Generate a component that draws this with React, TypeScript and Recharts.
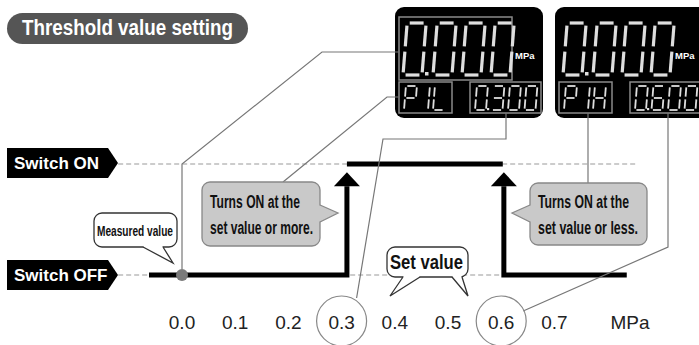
import React from 'react';
import { ComposedChart, Line, XAxis, YAxis, ReferenceLine, ReferenceDot } from 'recharts';

// pressure axis (MPa)
const pressureTicks = [0, 0.1, 0.2, 0.3, 0.4, 0.5, 0.6, 0.7];
const circledTicks = [0.3, 0.6];
const measuredValue = 0.0;

// switch state: 1 = ON, 0 = OFF (arrow series end just below the ON level)
const offBefore = [{ x: -0.062, y: 0 }, { x: 0.31, y: 0 }, { x: 0.31, y: 0.8 }];
const onSpan = [{ x: 0.31, y: 1 }, { x: 0.603, y: 1 }];
const offAfter = [{ x: 0.836, y: 0 }, { x: 0.605, y: 0 }, { x: 0.605, y: 0.8 }];
const onGuide = [{ x: -0.12, y: 1 }, { x: 0.857, y: 1 }];
const offGuide = [{ x: -0.12, y: 0 }, { x: 0.6, y: 0 }];

// display readings
const mainReading = ['0', '0', '0', '0'];
const lowCode = ['P', '1', 'L'];
const lowSet = ['0', '3', '0', '0'];
const highCode = ['P', '1', 'H'];
const highSet = ['0', '6', '0', '0'];

const W = 699;
const H = 345;
const X_MIN = -0.3421;
const X_MAX = 0.9718;
const ON_Y = 164;
const OFF_Y = 275;
const px = (v: number) => ((v - X_MIN) / (X_MAX - X_MIN)) * W;
const py = (v: number) => OFF_Y - v * (OFF_Y - ON_Y);

const NARROW = "'Liberation Sans Narrow', 'Liberation Sans', Arial, sans-serif";
const SANS = "'Liberation Sans', Arial, sans-serif";
const LEADER = '#777';

const SEGS: Record<string, string> = {
  '0': 'abcdef', '3': 'abcdg', '6': 'acdefg', P: 'abefg', '1': 'bc', L: 'def', H: 'bcefg',
};

const Digit = ({ x, y, w, h, ch, sw }: any) => {
  const s = 0.08;
  const g = sw * 0.8;
  const m = h / 2;
  const P = (a: number, b: number) => `${x + a + (h - b) * s},${y + b}`;
  const segs: Record<string, number[][]> = {
    a: [[g, 0], [w - g, 0]],
    b: [[w, g], [w, m - g]],
    c: [[w, m + g], [w, h - g]],
    d: [[g, h], [w - g, h]],
    e: [[0, m + g], [0, h - g]],
    f: [[0, g], [0, m - g]],
    g: [[g, m], [w - g, m]],
  };
  return (
    <g stroke="#dedede" strokeWidth={sw} strokeLinecap="butt">
      {(SEGS[ch] || '').split('').map((k) => {
        const [p1, p2] = segs[k];
        const [x1, y1] = P(p1[0], p1[1]).split(',').map(Number);
        const [x2, y2] = P(p2[0], p2[1]).split(',').map(Number);
        return <line key={k} x1={x1} y1={y1} x2={x2} y2={y2} />;
      })}
    </g>
  );
};

const Display = ({ ox, framed, code, value, boxW }: any) => (
  <g>
    <rect x={ox} y={7} width={boxW} height={111} rx={9} fill="#000" />
    {framed && <rect x={ox + 4} y={17} width={113} height={63} fill="none" stroke="#8a8a8a" strokeWidth={1.5} />}
    {mainReading.map((c, i) => (
      <Digit key={i} x={ox + 8 + i * 29 + (i > 0 ? 1 : 0)} y={23} w={19} h={52} ch={c} sw={3.2} />
    ))}
    <rect x={ox + 30} y={72} width={3.5} height={3.5} fill="#dedede" />
    <text x={ox + 120} y={59} fill="#fff" fontSize={9.5} fontWeight="bold" fontFamily={SANS}>MPa</text>
    <rect x={ox + 4} y={82} width={53} height={31} fill="none" stroke="#8a8a8a" strokeWidth={1.5} />
    {code.map((c: string, i: number) => (
      <Digit key={i} x={ox + [9, 22, 38][i]} y={86} w={11} h={24} ch={c} sw={1.8} />
    ))}
    <rect x={ox + 75} y={82} width={71} height={31} fill="none" stroke="#8a8a8a" strokeWidth={1.5} />
    {value.map((c: string, i: number) => (
      <Digit key={i} x={ox + 80 + i * 16.5} y={86} w={11} h={24} ch={c} sw={1.8} />
    ))}
    <rect x={ox + 92} y={108} width={2.2} height={2.2} fill="#dedede" />
  </g>
);

const Bubble = ({ x, y, w, h, fill, stroke, tails }: any) => (
  <g>
    <rect x={x} y={y} width={w} height={h} rx={8} fill={fill} stroke={stroke} strokeWidth={1.3} />
    {tails.map((t: number[][], i: number) => (
      <g key={i}>
        <polygon points={t.map((p) => p.join(',')).join(' ')} fill={fill} />
        <polyline points={[t[1], t[2], t[3]].map((p) => p.join(',')).join(' ')} fill="none" stroke={stroke} strokeWidth={1.3} />
      </g>
    ))}
  </g>
);

const Tag = ({ top, label }: any) => (
  <g>
    <polygon points={`7,${top} 108,${top} 118,${top + 15} 108,${top + 30} 7,${top + 30}`} fill="#000" />
    <text x={14} y={top + 21} fill="#fff" fontSize={17} fontWeight="bold" fontFamily={SANS}>{label}</text>
  </g>
);

const arrowDot = (props: any) => {
  const { cx, cy, index } = props;
  if (index !== 2) return <g key={index} />;
  return <polygon key={index} points={`${cx - 13},${cy} ${cx + 13},${cy} ${cx},${cy - 14}`} fill="#000" />;
};

const Overlay = () => (
  <svg width={W} height={H} style={{ position: 'absolute', left: 0, top: 0, pointerEvents: 'none' }}>
    {/* title pill */}
    <rect x={7} y={13} width={241} height={31} rx={15.5} fill="#555" />
    <text x={22} y={35} fill="#fff" fontSize={22} fontWeight="bold" fontFamily={NARROW} textLength={211} lengthAdjust="spacingAndGlyphs">
      Threshold value setting
    </text>

    <Tag top={148} label="Switch ON" />
    <Tag top={260} label="Switch OFF" />

    {/* displays */}
    <Display ox={395} framed boxW={148} code={lowCode} value={lowSet} />
    <Display ox={555} framed={false} boxW={160} code={highCode} value={highSet} />

    {/* leader lines */}
    <g fill="none" stroke={LEADER} strokeWidth={1.2}>
      <path d={`M${px(measuredValue)},${py(0) - 6} V${py(1)} L322,52 H399`} />
      <path d="M399,97 H387 L283,182" />
      <path d={`M506,113 V139 H383 L${px(0.3) + 15},298`} />
      <path d="M588,113 V183" />
      <path d={`M668,113 V247 L${px(0.6) + 22},311`} />
      {circledTicks.map((t) => (
        <circle key={t} cx={px(t)} cy={321} r={25} stroke="#888" />
      ))}
    </g>

    {/* callouts */}
    <Bubble x={94} y={213} w={83} h={34} fill="#fff" stroke="#333"
      tails={[[[145, 245], [143, 247], [173, 263], [163, 247], [161, 245]]]} />
    <text x={97} y={236} fontSize={15} fontWeight="bold" fontFamily={NARROW} textLength={76} lengthAdjust="spacingAndGlyphs" fill="#111">Measured value</text>

    <Bubble x={202} y={182} w={118} h={64} fill="#c9c9c9" stroke="#888"
      tails={[[[318, 207], [320, 205], [338, 213], [320, 222], [318, 220]]]} />
    <text x={210} y={208} fontSize={18} fontWeight="bold" fontFamily={NARROW} textLength={90} lengthAdjust="spacingAndGlyphs" fill="#111">Turns ON at the</text>
    <text x={210} y={234} fontSize={18} fontWeight="bold" fontFamily={NARROW} textLength={103} lengthAdjust="spacingAndGlyphs" fill="#111">set value or more.</text>

    <Bubble x={530} y={183} w={117} h={62} fill="#c9c9c9" stroke="#888"
      tails={[[[532, 207], [530, 205], [512, 213], [530, 222], [532, 220]]]} />
    <text x={538} y={208} fontSize={18} fontWeight="bold" fontFamily={NARROW} textLength={91} lengthAdjust="spacingAndGlyphs" fill="#111">Turns ON at the</text>
    <text x={538} y={234} fontSize={18} fontWeight="bold" fontFamily={NARROW} textLength={100} lengthAdjust="spacingAndGlyphs" fill="#111">set value or less.</text>

    <Bubble x={387} y={247} w={81} h={30} fill="#fff" stroke="#333"
      tails={[[[405, 275], [403, 277], [390, 296], [420, 277], [418, 275]], [[454, 275], [452, 277], [468, 296], [462, 277], [460, 275]]]} />
    <text x={390} y={269} fontSize={20} fontWeight="bold" fontFamily={NARROW} textLength={73} lengthAdjust="spacingAndGlyphs" fill="#111">Set value</text>

    <text x={630} y={329} textAnchor="middle" fontSize={19} fill="#222" fontFamily={SANS}>MPa</text>
  </svg>
);

export default function App() {
  return (
    <div style={{ position: 'absolute', left: 0, top: 0, width: W, height: H, background: '#fff' }}>
      <ComposedChart width={W} height={H} margin={{ top: ON_Y, right: 0, bottom: 0, left: 0 }}>
        <XAxis
          type="number"
          dataKey="x"
          domain={[X_MIN, X_MAX]}
          ticks={pressureTicks}
          interval={0}
          height={H - OFF_Y}
          axisLine={false}
          tickLine={false}
          tickSize={0}
          tickMargin={40.5}
          tickFormatter={(v: number) => v.toFixed(1)}
          tick={{ fontSize: 19, fill: '#222', fontFamily: SANS }}
        />
        <YAxis type="number" domain={[0, 1]} hide />
        <ReferenceLine segment={onGuide} stroke="#999" strokeDasharray="5 3" />
        <ReferenceLine segment={offGuide} stroke="#999" strokeDasharray="5 3" />
        <Line data={offBefore} dataKey="y" type="linear" stroke="#000" strokeWidth={5} dot={arrowDot} activeDot={false} isAnimationActive={false} />
        <Line data={onSpan} dataKey="y" type="linear" stroke="#000" strokeWidth={5} dot={false} activeDot={false} isAnimationActive={false} />
        <Line data={offAfter} dataKey="y" type="linear" stroke="#000" strokeWidth={5} dot={arrowDot} activeDot={false} isAnimationActive={false} />
        <ReferenceDot x={measuredValue} y={0} r={6} fill="#7a7a7a" stroke="none" />
      </ComposedChart>
      <Overlay />
    </div>
  );
}
